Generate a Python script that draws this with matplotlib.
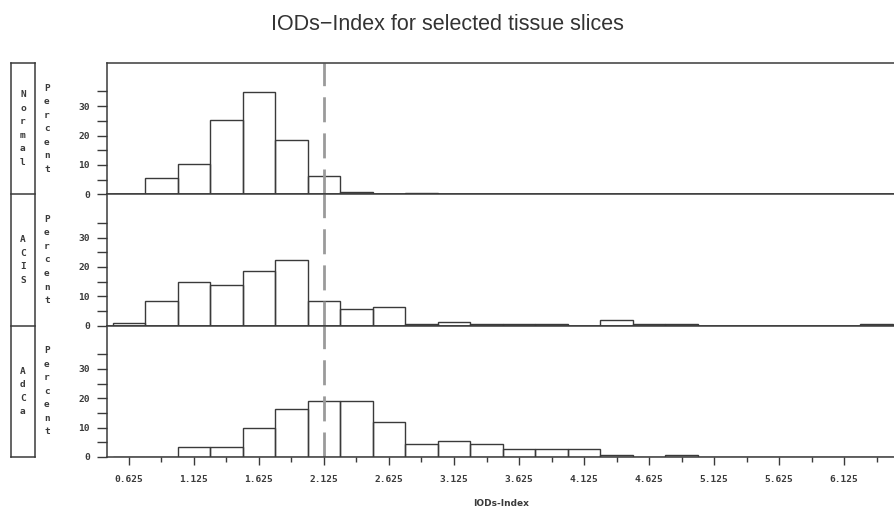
import numpy as np
from matplotlib import pyplot as plt
from matplotlib.lines import Line2D

# bins of width 0.25, centres from 0.625 to 6.375
bin_centers = np.arange(0.625, 6.5, 0.25)

normal = [0, 5.6, 10.2, 25.4, 34.7, 18.4, 6.4, 0.8, 0, 0.6,
          0, 0, 0, 0, 0, 0, 0, 0, 0, 0, 0, 0, 0, 0]
acis = [0.9, 8.3, 14.8, 13.8, 18.5, 22.2, 8.3, 5.8, 6.4, 0.5,
        1.1, 0.5, 0.6, 0.6, 0, 1.9, 0.6, 0.6, 0, 0, 0, 0, 0, 0.7]
adca = [0, 0, 3.5, 3.5, 10.0, 16.3, 19.1, 19.1, 11.9, 4.4,
        5.4, 4.3, 2.7, 2.7, 2.7, 0.7, 0, 0.8, 0, 0, 0, 0, 0, 0]

groups = ['Normal', 'ACIS', 'AdCa']
ref_value = 2.125
xticks = np.arange(0.625, 6.2, 0.5)
xticklabels = ['%.3f' % v for v in xticks]

W, H = 895, 520
fig = plt.figure(figsize=(W / 100, H / 100), dpi=100)

left, right, top, bottom = 107, 895, 63, 457
ph = (bottom - top) / 3
ink = '#3a3a3a'
tickfont = dict(family='DejaVu Sans Mono', weight='bold', size=6.8, color=ink)

axes = []
for i, (name, vals) in enumerate(zip(groups, [normal, acis, adca])):
    y0 = top + i * ph
    ax = fig.add_axes([left / W, 1 - (y0 + ph) / H, (right - left) / W, ph / H])
    ax.bar(bin_centers, vals, width=0.25, fill=False, edgecolor=ink, linewidth=1.0)
    ax.set_xlim(0.456, 6.517)
    ax.set_ylim(0, 44.7)
    ax.axvline(ref_value, color='#9a9a9a', linewidth=2, dashes=(9, 4))
    ax.set_yticks([0, 10, 20, 30])
    ax.set_yticks([5, 15, 25, 35], minor=True)
    ax.set_yticklabels(['0', '10', '20', '30'], fontdict=tickfont)
    ax.tick_params(axis='y', which='both', direction='out', length=7.2, width=1, color=ink, pad=5)
    ax.set_xticks(xticks)
    ax.set_xticks(xticks + 0.25, minor=True)
    for s in ['left', 'top', 'bottom']:
        ax.spines[s].set_color(ink)
        ax.spines[s].set_linewidth(1.1)
    ax.spines['right'].set_visible(False)
    if i < 2:
        ax.tick_params(axis='x', which='both', length=0, labelbottom=False)
    else:
        ax.set_xticklabels(xticklabels, fontdict=tickfont)
        ax.tick_params(axis='x', which='major', direction='out', length=6, width=1, color=ink, pad=7)
        ax.tick_params(axis='x', which='minor', direction='out', length=3.5, width=1, color=ink)
        ax.set_xlabel('IODs-Index', fontdict=dict(family='DejaVu Sans', weight='bold', size=6.5, color=ink), labelpad=11)
    axes.append(ax)

    # group label strip and stacked "Percent"
    yc = 1 - (y0 + ph / 2) / H
    fig.text(23 / W, yc, '\n'.join(name), ha='center', va='center', linespacing=1.65,
             fontdict=tickfont)
    fig.text(47 / W, yc, '\n'.join('Percent'), ha='center', va='center', linespacing=1.65,
             fontdict=tickfont)

# strip box
for x in [11, 35]:
    fig.add_artist(Line2D([x / W, x / W], [1 - top / H, 1 - bottom / H], color=ink, linewidth=1.1))
for k in range(4):
    yy = 1 - (top + k * ph) / H
    fig.add_artist(Line2D([11 / W, 35 / W], [yy, yy], color=ink, linewidth=1.1))

fig.text(0.5, 1 - 24 / H, 'IODs\u2212Index for selected tissue slices', ha='center', va='center',
         fontsize=15.5, family=['Liberation Sans', 'DejaVu Sans'], color='#333333')

fig.savefig('out.png', dpi=100)
